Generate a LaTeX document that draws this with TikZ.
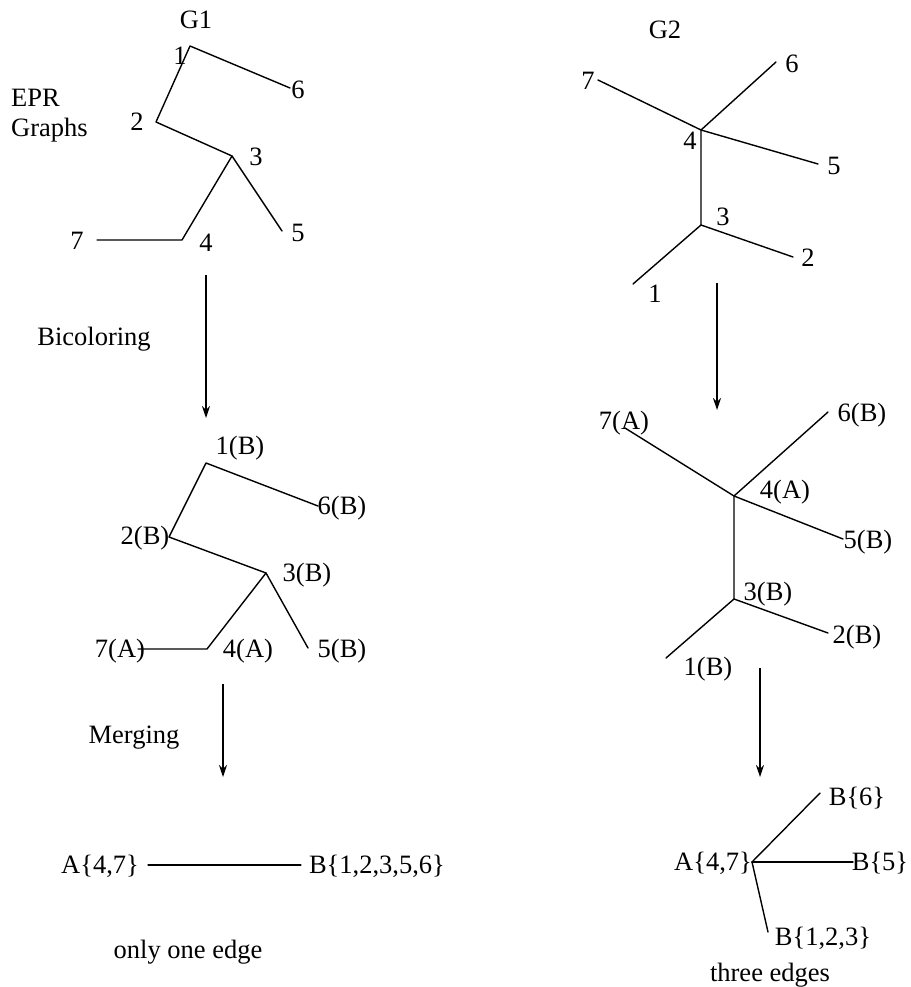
\documentclass[tikz,border=0pt]{standalone}
\usepackage{fontspec}
\setmainfont{Liberation Serif}
\usetikzlibrary{arrows.meta}
\tikzset{
  lbl/.style={inner sep=0pt, text height=17.5pt, text depth=0pt, font=\fontsize{26.5}{30}\selectfont},
  edge/.style={line width=1.4pt, line cap=round, line join=round},
  flow/.style={line width=1.4pt, -{Stealth[length=12pt,width=8pt,inset=4pt]}}
}
\begin{document}
\begin{tikzpicture}[x=1pt,y=-1pt]
\useasboundingbox (0,0) rectangle (910,987);
% ---------- G1 ----------
\node[lbl] (g1) at (196,20) {G1};
\node[lbl, anchor=west] (epr) at (11,98) {EPR};
\node[lbl, anchor=west] (graphs) at (11,128) {Graphs};
\coordinate (a1) at (190,46);
\coordinate (a6) at (290,88);
\coordinate (a2) at (156,122);
\coordinate (a3) at (232,156);
\coordinate (a5) at (282,231);
\coordinate (a4) at (182,240);
\coordinate (a7) at (97,240);
\node[lbl] (la1) at (180,56) {1};
\node[lbl] (la6) at (298,90) {6};
\node[lbl] (la2) at (137,122) {2};
\node[lbl] (la3) at (256,157) {3};
\node[lbl] (la5) at (298,233) {5};
\node[lbl] (la4) at (206,243) {4};
\node[lbl] (la7) at (77,241) {7};
\draw[edge] (a6) -- (a1) -- (a2) -- (a3) -- (a5);
\draw[edge] (a3) -- (a4) -- (a7);
% arrow 1
\coordinate (f1s) at (206,275);
\coordinate (f1e) at (206,418);
\draw[flow] (f1s) -- (f1e);
\node[lbl] (bic) at (94,337) {Bicoloring};
% ---------- G1 bicolored ----------
\coordinate (b1) at (206,463);
\coordinate (b6) at (318,506);
\coordinate (b2) at (169,537);
\coordinate (b3) at (266,573);
\coordinate (b5) at (308,648);
\coordinate (b4) at (207,649);
\coordinate (b7) at (138,649);
\node[lbl] (lb1) at (240,446) {1(B)};
\node[lbl] (lb6) at (342,506) {6(B)};
\node[lbl] (lb2) at (145,536) {2(B)};
\node[lbl] (lb3) at (307,573) {3(B)};
\node[lbl] (lb5) at (342,649) {5(B)};
\node[lbl] (lb4) at (248,649) {4(A)};
\node[lbl] (lb7) at (120,649) {7(A)};
\draw[edge] (b6) -- (b1) -- (b2) -- (b3) -- (b5);
\draw[edge] (b3) -- (b4) -- (b7);
% arrow 2
\coordinate (f2s) at (223,684);
\coordinate (f2e) at (223,777);
\draw[flow] (f2s) -- (f2e);
\node[lbl] (mrg) at (134,735) {Merging};
% ---------- merged G1 ----------
\node[lbl] (ma) at (100,865) {A\{4,7\}};
\node[lbl] (mb) at (377,865) {B\{1,2,3,5,6\}};
\draw[edge] ([xshift=9pt]ma.east) -- ([xshift=-8pt]mb.west);
\node[lbl] (one) at (188,950) {only one edge};
% ---------- G2 ----------
\node[lbl] (g2) at (665,30) {G2};
\coordinate (c7) at (598,80);
\coordinate (c4) at (701,130);
\coordinate (c6) at (776,62);
\coordinate (c5) at (818,164);
\coordinate (c3) at (701,225);
\coordinate (c2) at (793,257);
\coordinate (c1) at (633,284);
\node[lbl] (lc7) at (588,81) {7};
\node[lbl] (lc4) at (690,141) {4};
\node[lbl] (lc6) at (792,64) {6};
\node[lbl] (lc5) at (834,166) {5};
\node[lbl] (lc3) at (723,217) {3};
\node[lbl] (lc2) at (808,258) {2};
\node[lbl] (lc1) at (655,294) {1};
\draw[edge] (c7) -- (c4) -- (c5);
\draw[edge] (c6) -- (c4) -- (c3) -- (c2);
\draw[edge] (c3) -- (c1);
% arrow 3
\coordinate (f3s) at (717,283);
\coordinate (f3e) at (717,410);
\draw[flow] (f3s) -- (f3e);
% ---------- G2 bicolored ----------
\coordinate (d7) at (625,428);
\coordinate (d4) at (734,496);
\coordinate (d6) at (828,412);
\coordinate (d5) at (843,539);
\coordinate (d3) at (734,599);
\coordinate (d2) at (828,633);
\coordinate (d1) at (666,658);
\node[lbl] (ld7) at (624,421) {7(A)};
\node[lbl] (ld4) at (785,490) {4(A)};
\node[lbl] (ld6) at (862,413) {6(B)};
\node[lbl] (ld5) at (868,540) {5(B)};
\node[lbl] (ld3) at (768,592) {3(B)};
\node[lbl] (ld2) at (857,635) {2(B)};
\node[lbl] (ld1) at (708,667) {1(B)};
\draw[edge] (d7) -- (d4) -- (d5);
\draw[edge] (d6) -- (d4) -- (d3) -- (d2);
\draw[edge] (d3) -- (d1);
% arrow 4
\coordinate (f4s) at (760,668);
\coordinate (f4e) at (760,777);
\draw[flow] (f4s) -- (f4e);
% ---------- merged G2 ----------
\node[lbl] (na) at (713,862) {A\{4,7\}};
\coordinate (hub) at (752,862);
\node[lbl] (nb6) at (857,797) {B\{6\}};
\node[lbl] (nb5) at (880,862) {B\{5\}};
\node[lbl] (nb123) at (823,937) {B\{1,2,3\}};
\coordinate (e6) at (820,793);
\coordinate (e5) at (853,862);
\coordinate (e123) at (768,932);
\draw[edge] (hub) -- (e6);
\draw[edge] (hub) -- (e5);
\draw[edge] (hub) -- (e123);
\node[lbl] (three) at (770,973) {three edges};
\end{tikzpicture}
\end{document}
